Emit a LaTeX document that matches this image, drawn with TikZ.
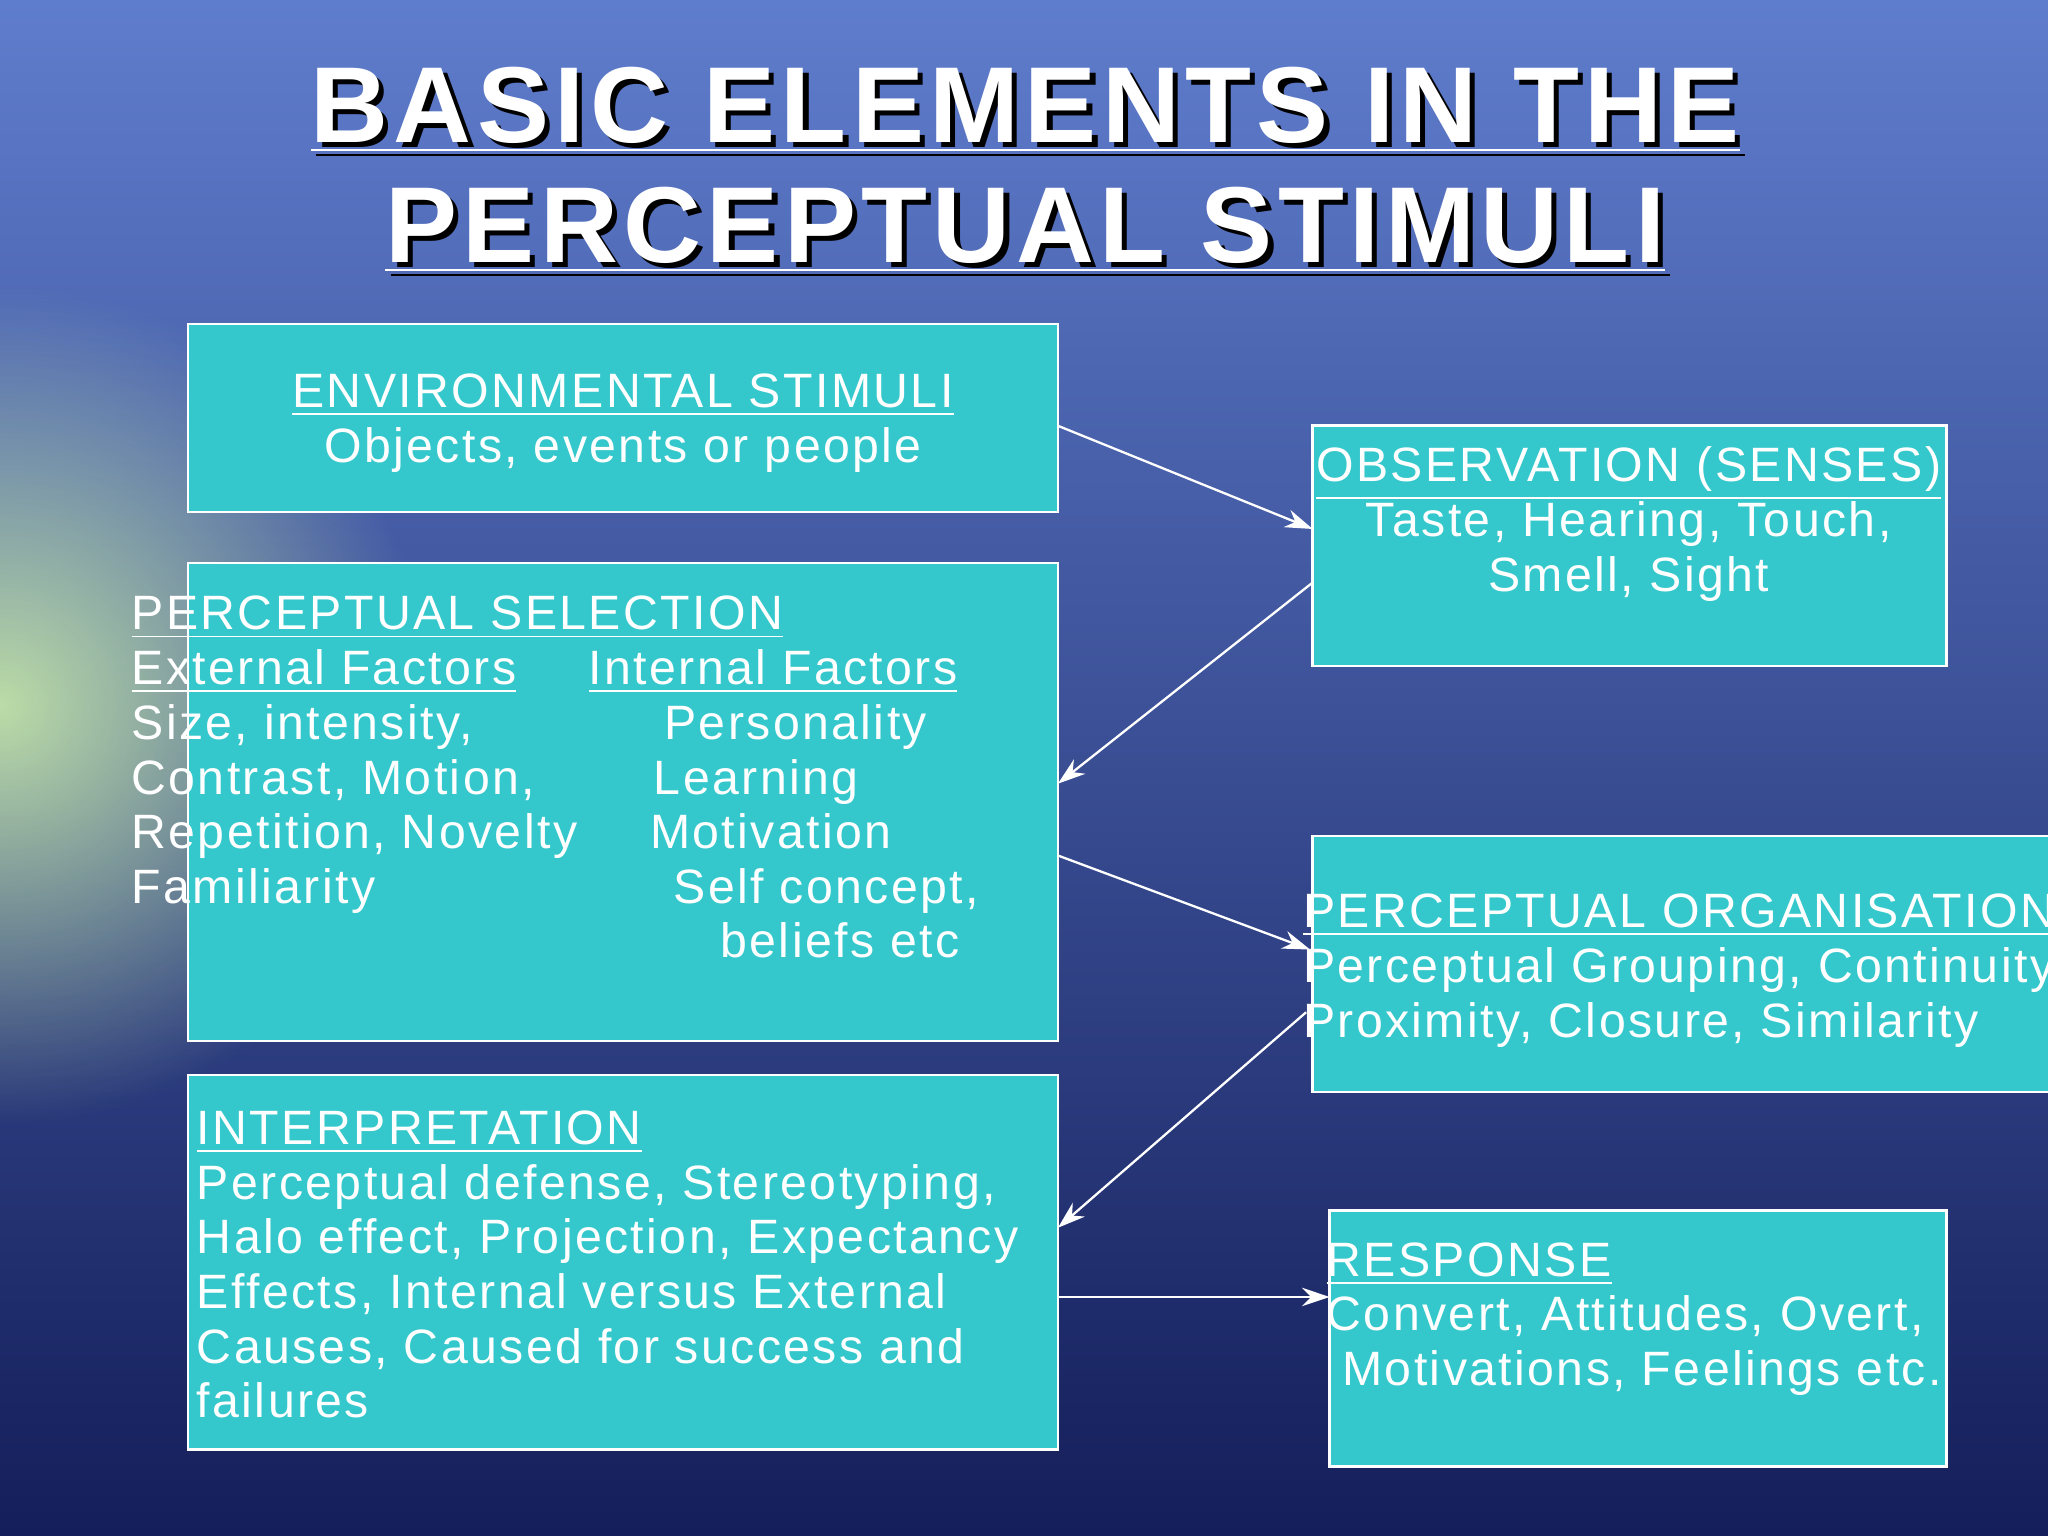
\documentclass[tikz,border=0pt]{standalone}
\usepackage{fontspec}
\setmainfont[LetterSpace=5]{Liberation Sans}
\newfontfamily\titlefont[LetterSpace=5]{Liberation Sans}
\usetikzlibrary{arrows.meta,fadings}
\tikzfading[name=softglow, inner color=transparent!0, outer color=transparent!100]
\definecolor{boxc}{RGB}{52,200,204}
\tikzset{box/.style={draw=white,line width=0.6pt,fill=boxc},
 txt/.style={anchor=base west,inner sep=0,text=white,font=\fontsize{10.5}{12}\selectfont},
 ttl/.style={anchor=base,inner sep=0,text=white,font=\titlefont\bfseries\fontsize{23.5}{26}\selectfont},
 shd/.style={anchor=base,inner sep=0,text=black,font=\titlefont\bfseries\fontsize{23.5}{26}\selectfont},
 arr/.style={draw=white,line width=0.5pt,-{Stealth[length=6pt,width=4pt]}}}
\definecolor{skyA}{RGB}{95,125,205}
\definecolor{skyB}{RGB}{45,65,165}
\definecolor{seaB}{RGB}{20,30,90}
\definecolor{glow}{RGB}{210,245,170}
\begin{document}
\begin{tikzpicture}[x=0.01cm,y=-0.01cm]
\useasboundingbox (0,0) rectangle (1568,1176);
\begin{scope}
\clip (0,0) rectangle (1568,1176);
\shade[top color=skyA, middle color=skyB, bottom color=seaB] (0,0) rectangle (1568,1176);
\fill[glow, path fading=softglow, opacity=0.85] (0,540) ellipse [x radius=330, y radius=320];
\draw[box] (144,248) rectangle (810,392);
\draw[box] (1005,326) rectangle (1490,510);
\draw[box] (144,431) rectangle (810,797);
\draw[box] (1005,640) rectangle (1600,836);
\draw[box] (144,823) rectangle (810,1110);
\draw[box] (1018,927) rectangle (1490,1123);
\end{scope}
% title
\node[shd] (t1s) at (789,113) {\underline{BASIC ELEMENTS IN THE}};
\node[ttl] (t1) at (785,109) {\underline{BASIC ELEMENTS IN THE}};
\node[shd] (t2s) at (789,205) {\underline{PERCEPTUAL STIMULI}};
\node[ttl] (t2) at (785,201) {\underline{PERCEPTUAL STIMULI}};
% env
\node[txt,anchor=base] (e1) at (477,312) {\underline{ENVIRONMENTAL STIMULI}};
\node[txt,anchor=base] (e2) at (477,354) {Objects, events or people};
% obs
\node[txt,anchor=base] (o1) at (1247,369) {\underline{OBSERVATION (SENSES)}};
\node[txt,anchor=base] (o2) at (1247,411) {Taste, Hearing, Touch,};
\node[txt,anchor=base] (o3) at (1247,453) {Smell, Sight};
% sel
\node[txt] (s1) at (100,482) {\underline{PERCEPTUAL SELECTION}};
\node[txt] (s2) at (100,524) {\underline{External Factors}};
\node[txt] (s3) at (450,524) {\underline{Internal Factors}};
\node[txt] (s4) at (100,566) {Size, intensity,};
\node[txt] (s5) at (508,566) {Personality};
\node[txt] (s6) at (100,608) {Contrast, Motion,};
\node[txt] (s7) at (500,608) {Learning};
\node[txt] (s8) at (100,650) {Repetition, Novelty};
\node[txt] (s9) at (497,650) {Motivation};
\node[txt] (s10) at (100,692) {Familiarity};
\node[txt] (s11) at (515,692) {Self concept,};
\node[txt] (s12) at (551,733) {beliefs etc};
% org
\begin{scope}
\clip (0,0) rectangle (1568,1176);
\node[txt] (g1) at (997,710) {\underline{PERCEPTUAL ORGANISATION}};
\node[txt] (g2) at (997,752) {Perceptual Grouping, Continuity};
\node[txt] (g3) at (997,794) {Proximity, Closure, Similarity};
\end{scope}
% interp
\node[txt] (i1) at (150,876) {\underline{INTERPRETATION}};
\node[txt] (i2) at (150,918) {Perceptual defense, Stereotyping,};
\node[txt] (i3) at (150,960) {Halo effect, Projection, Expectancy};
\node[txt] (i4) at (150,1002) {Effects, Internal versus External};
\node[txt] (i5) at (150,1044) {Causes, Caused for success and};
\node[txt] (i6) at (150,1085) {failures};
% resp
\node[txt] (r1) at (1015,977) {\underline{RESPONSE}};
\node[txt] (r2) at (1015,1019) {Convert, Attitudes, Overt,};
\node[txt] (r3) at (1027,1061) {Motivations, Feelings etc.};
% arrows
\coordinate (a1) at (810,326); \coordinate (b1) at (1005,405);
\coordinate (a2) at (1005,446); \coordinate (b2) at (810,600);
\coordinate (a3) at (810,655); \coordinate (b3) at (1003,727);
\coordinate (a4) at (1000,775); \coordinate (b4) at (810,940);
\coordinate (a5) at (810,993); \coordinate (b5) at (1018,993);
\draw[arr] (a1) -- (b1);
\draw[arr] (a2) -- (b2);
\draw[arr] (a3) -- (b3);
\draw[arr] (a4) -- (b4);
\draw[arr] (a5) -- (b5);
\end{tikzpicture}
\end{document}
